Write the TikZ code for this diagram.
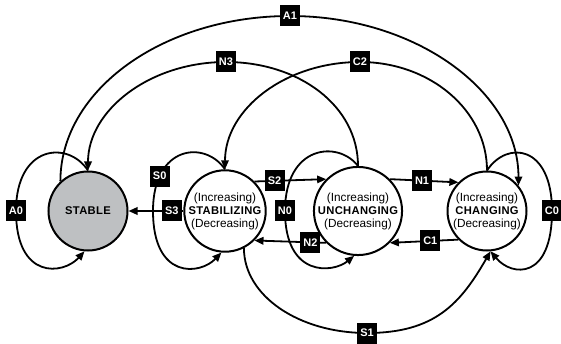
\documentclass[tikz,border=0pt]{standalone}
\usepackage{fontspec}
\setmainfont{Liberation Sans}
\usetikzlibrary{arrows.meta}
\definecolor{stablegray}{RGB}{190,192,194}
\newcommand\stname[1]{{\bfseries\fontsize{11.2}{13}\selectfont\addfontfeatures{LetterSpace=3}#1}}
\begin{document}
\begin{tikzpicture}[x=1pt,y=-1pt,
  state/.style={circle,draw,line width=2pt,minimum size=79pt,inner sep=0pt,align=center,
    font=\fontsize{11.8}{13}\selectfont,fill=white},
  lab/.style={fill=black,text=white,font=\bfseries\fontsize{11}{11}\selectfont,
    minimum width=20pt,minimum height=21pt,inner sep=0pt},
  conn/.style={line width=1.8pt,-{Triangle[length=9pt,width=7.5pt]}},
]
\useasboundingbox (0,0) rectangle (561,344);

% states
\node[state,fill=stablegray] (stable) at (88,211) {\stname{STABLE}};
\node[state] (stabilizing) at (225,211) {(Increasing)\\\stname{STABILIZING}\\(Decreasing)};
\node[state] (unchanging) at (358,211) {(Increasing)\\\stname{UNCHANGING}\\(Decreasing)};
\node[state] (changing) at (487,211) {(Increasing)\\\stname{CHANGING}\\(Decreasing)};

% long arcs
\draw[conn] (stable.133) .. controls +(0,-91.5) and +(-126.6,0) .. (290,16) node[lab] (lA1) {A1}
  .. controls +(126,0) and +(0,-93.8) .. (changing.39);
\draw[conn] (unchanging.90) .. controls +(0,-60.2) and +(72.9,0) .. (226,62) node[lab] (lN3) {N3}
  .. controls +(-76.2,0) and +(0,-60.2) .. (stable.90);
\draw[conn] (changing.90) .. controls +(0,-60.2) and +(70.1,0) .. (360,62) node[lab] (lC2) {C2}
  .. controls +(-74.6,0) and +(0,-60.2) .. (stabilizing.90);
\draw[conn] (stabilizing.-63) .. controls +(0,47.5) and +(-68.5,0) .. (367,333) node[lab] (lS1) {S1}
  .. controls +(68,0) and +(-30,52) .. (changing.-85);

% self loops
\draw[conn] (stable.90) .. controls (68,140) and (16,145) .. (16,211) node[lab] (lA0) {A0}
  .. controls (16,280) and (63,275) .. (stable.-95);
\draw[conn] (stabilizing.90) .. controls (205,140) and (153,145) .. (153,211) node[lab,pos=0.78] (lS0) {S0}
  .. controls (153,280) and (200,275) .. (stabilizing.-95);
\draw[conn] (unchanging.90) .. controls (338,140) and (285,145) .. (285,211) node[lab] (lN0) {N0}
  .. controls (285,278) and (333,273) .. (unchanging.-95);
\draw[conn] (changing.90) .. controls (507,140) and (552,145) .. (552,211) node[lab] (lC0) {C0}
  .. controls (552,280) and (512,277) .. (changing.-85);

% straight transitions
\draw[conn] (stabilizing.180) -- (stable.0) node[lab,pos=0.21] (lS3) {S3};
\draw[conn] (stabilizing.45) -- (unchanging.135) node[lab,pos=0.28] (lS2) {S2};
\draw[conn] (unchanging.45) -- (changing.135) node[lab,pos=0.47] (lN1) {N1};
\draw[conn] (changing.225) -- (unchanging.-45) node[lab,pos=0.41] (lC1) {C1};
\draw[conn] (unchanging.225) -- (stabilizing.-45) node[lab,pos=0.22] (lN2) {N2};
\end{tikzpicture}
\end{document}
